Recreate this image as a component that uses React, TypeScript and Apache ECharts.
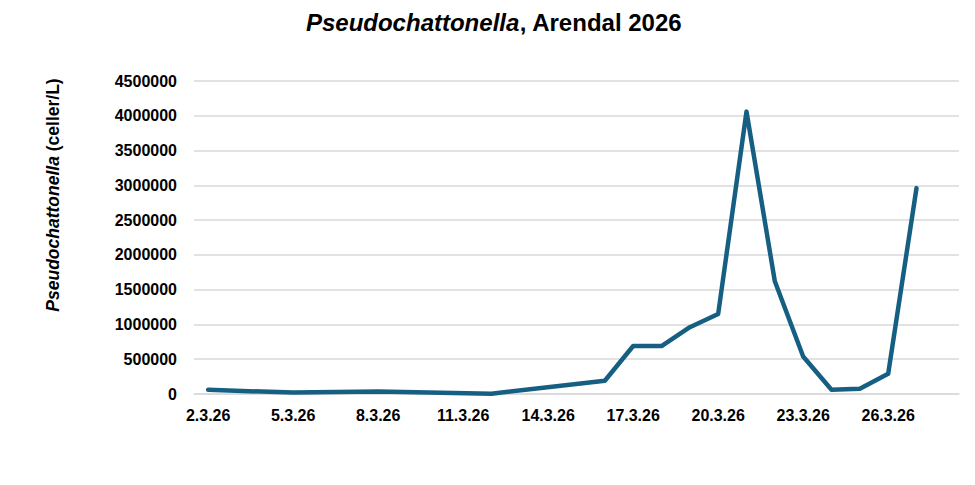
import React, { useEffect, useRef } from 'react';
import * as echarts from 'echarts';

// prøvedatoer (dag.måned.år), 2.3.26 – 28.3.26
const dates = [
  '2.3.26', '3.3.26', '4.3.26', '5.3.26', '6.3.26', '7.3.26', '8.3.26', '9.3.26', '10.3.26',
  '11.3.26', '12.3.26', '13.3.26', '14.3.26', '15.3.26', '16.3.26', '17.3.26', '18.3.26',
  '19.3.26', '20.3.26', '21.3.26', '22.3.26', '23.3.26', '24.3.26', '25.3.26', '26.3.26',
  '27.3.26', '28.3.26',
];

// celler/L, null = ingen prøve den dagen
const cells = [
  60000, null, null, 20000, null, null, 35000, null, null,
  null, 5000, null, null, null, 190000, 690000, 690000,
  960000, 1150000, 4060000, 1620000, 540000, 60000, 75000, 290000,
  2960000, null,
];

const yMax = 4500000;
const yStep = 500000;

const font = '"Liberation Sans", Arial, sans-serif';

const App: React.FC = () => {
  const chartRef = useRef<HTMLDivElement>(null);

  useEffect(() => {
    if (!chartRef.current) return;
    const chart = echarts.init(chartRef.current, undefined, { renderer: 'svg' });

    const option: echarts.EChartsOption = {
      animation: false,
      backgroundColor: '#ffffff',
      title: {
        text: '{i|Pseudochattonella}, Arendal 2026',
        left: 489,
        textAlign: 'center',
        top: 5,
        textStyle: {
          fontFamily: font,
          fontSize: 24,
          fontWeight: 'bold',
          color: '#000000',
          rich: {
            i: { fontFamily: font, fontSize: 24, fontWeight: 'bold', fontStyle: 'italic', color: '#000000' },
          },
        },
      },
      graphic: [
        {
          type: 'text',
          x: 53,
          y: 195,
          rotation: Math.PI / 2,
          style: {
            text: '{i|Pseudochattonella} (celler/L)',
            fontFamily: font,
            fontSize: 17.5,
            fontWeight: 'bold',
            fill: '#000000',
            align: 'center',
            verticalAlign: 'middle',
            rich: {
              i: { fontFamily: font, fontSize: 17.5, fontWeight: 'bold', fontStyle: 'italic', fill: '#000000' },
            },
          },
        },
      ],
      grid: {
        left: 194,
        right: 16,
        top: 81,
        bottom: 91,
        containLabel: false,
      },
      xAxis: {
        type: 'category',
        data: dates,
        boundaryGap: true,
        axisLine: { show: true, lineStyle: { color: '#d9d9d9', width: 1.5 } },
        axisTick: { show: false },
        axisLabel: {
          interval: 2,
          margin: 13,
          fontFamily: font,
          fontSize: 16,
          fontWeight: 'bold',
          color: '#000000',
        },
      },
      yAxis: {
        type: 'value',
        min: 0,
        max: yMax,
        interval: yStep,
        axisLine: { show: false },
        axisTick: { show: false },
        splitLine: { lineStyle: { color: '#d9d9d9', width: 1.5 } },
        axisLabel: {
          margin: 17,
          formatter: (v: number) => String(v),
          fontFamily: font,
          fontSize: 16,
          fontWeight: 'bold',
          color: '#000000',
        },
      },
      series: [
        {
          type: 'line',
          data: cells,
          connectNulls: true,
          showSymbol: false,
          symbol: 'none',
          lineStyle: { color: '#156082', width: 4.5, cap: 'round', join: 'round' },
        },
      ],
    };

    chart.setOption(option);
    return () => {
      chart.dispose();
    };
  }, []);

  return (
    <div
      ref={chartRef}
      style={{ position: 'fixed', left: 0, top: 0, width: 975, height: 485 }}
    />
  );
};

export default App;
